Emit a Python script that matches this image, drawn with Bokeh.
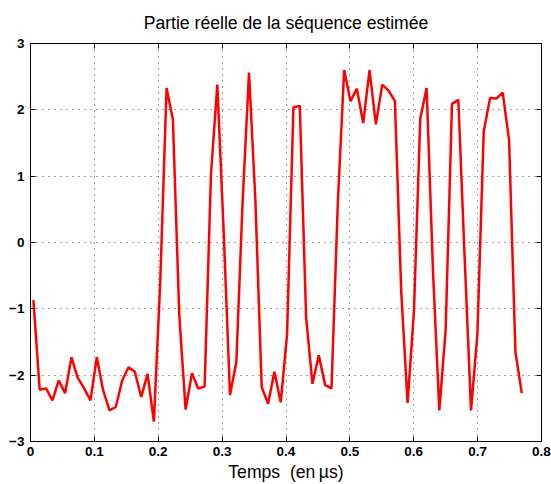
from bokeh.plotting import figure
from bokeh.models import Range1d, FixedTicker, LinearAxis
from bokeh.embed import file_html
from bokeh.resources import INLINE

# Sampling grid (µs)
t_start = 0.0045
t_step = 0.00993

values = [
    -0.87, -2.22, -2.20, -2.38, -2.08, -2.27, -1.73, -2.04, -2.20, -2.38,
    -1.73, -2.23, -2.53, -2.48, -2.08, -1.88, -1.95, -2.33, -1.98, -2.70,
    -0.60, 2.33, 1.85, -1.09, -2.52, -1.97, -2.20, -2.17, 1.03, 2.38,
    0.17, -2.30, -1.80, 0.64, 2.56, 0.64, -2.18, -2.43, -1.95, -2.41,
    -1.38, 2.04, 2.06, -1.13, -2.13, -1.70, -2.15, -2.20, 0.60, 2.60,
    2.13, 2.32, 1.80, 2.60, 1.78, 2.38, 2.29, 2.13, -0.75, -2.42,
    -1.04, 1.87, 2.33, -0.42, -2.53, -1.32, 2.09, 2.15, -0.24, -2.53,
    -1.39, 1.67, 2.18, 2.17, 2.26, 1.54, -1.65, -2.27,
]
times = [t_start + i * t_step for i in range(len(values))]

x_ticks = [0, 0.1, 0.2, 0.3, 0.4, 0.5, 0.6, 0.7, 0.8]
x_tick_labels = ["0", "0.1", "0.2", "0.3", "0.4", "0.5", "0.6", "0.7", "0.8"]
y_ticks = [-3, -2, -1, 0, 1, 2, 3]
y_tick_labels = ["\u22123", "\u22122", "\u22121", "0", "1", "2", "3"]

title_text = "Partie réelle de la séquence estimée"
x_label = "Temps \u00a0(en\u2009µs)"

FONT = "Liberation Sans"

p = figure(
    width=551, height=484,
    x_range=Range1d(0, 0.8), y_range=Range1d(-3, 3),
    output_backend="svg", toolbar_location=None,
    min_border_left=30, min_border_right=10,
    min_border_top=42, min_border_bottom=42,
    title=title_text,
)
p.background_fill_color = "white"
p.border_fill_color = "white"
p.outline_line_color = "black"
p.outline_line_width = 1

p.title.align = "center"
p.title.text_font = FONT
p.title.text_font_size = "17.6px"
p.title.text_font_style = "normal"
p.title.text_color = "black"
p.title.standoff = 21

def style_axis(ax, ticks, labels, show_labels=True):
    ax.ticker = FixedTicker(ticks=ticks)
    ax.major_label_overrides = dict(zip(ticks, labels))
    ax.major_tick_in = 5
    ax.major_tick_out = 0
    ax.minor_tick_in = 0
    ax.minor_tick_out = 0
    ax.axis_line_color = "black"
    ax.major_tick_line_color = "black"
    ax.major_label_text_font = FONT
    ax.major_label_text_font_style = "bold"
    ax.major_label_text_color = "black"
    if show_labels:
        ax.major_label_text_font_size = "13.5px"
    else:
        ax.major_label_text_font_size = "0px"
        ax.major_label_standoff = 0

xa = p.xaxis[0]
style_axis(xa, x_ticks, x_tick_labels)
xa.major_label_standoff = 5
xa.axis_label = x_label
xa.axis_label_text_font = FONT
xa.axis_label_text_font_size = "17.6px"
xa.axis_label_text_font_style = "normal"
xa.axis_label_text_color = "black"
xa.axis_label_standoff = 3

ya = p.yaxis[0]
style_axis(ya, y_ticks, y_tick_labels)
ya.major_label_standoff = 6

top_ax = LinearAxis()
style_axis(top_ax, x_ticks, x_tick_labels, show_labels=False)
p.add_layout(top_ax, "above")
right_ax = LinearAxis()
style_axis(right_ax, y_ticks, y_tick_labels, show_labels=False)
p.add_layout(right_ax, "right")

for g in (p.xgrid[0], p.ygrid[0]):
    g.grid_line_color = "#333333"
    g.grid_line_dash = "1 5"
    g.grid_line_width = 1
    g.grid_line_alpha = 0.9
p.xgrid[0].ticker = FixedTicker(ticks=x_ticks)
p.ygrid[0].ticker = FixedTicker(ticks=y_ticks)

p.line(times, values, line_color="#ff0000", line_width=2.5)

open("out.html", "w").write(file_html(p, INLINE))
